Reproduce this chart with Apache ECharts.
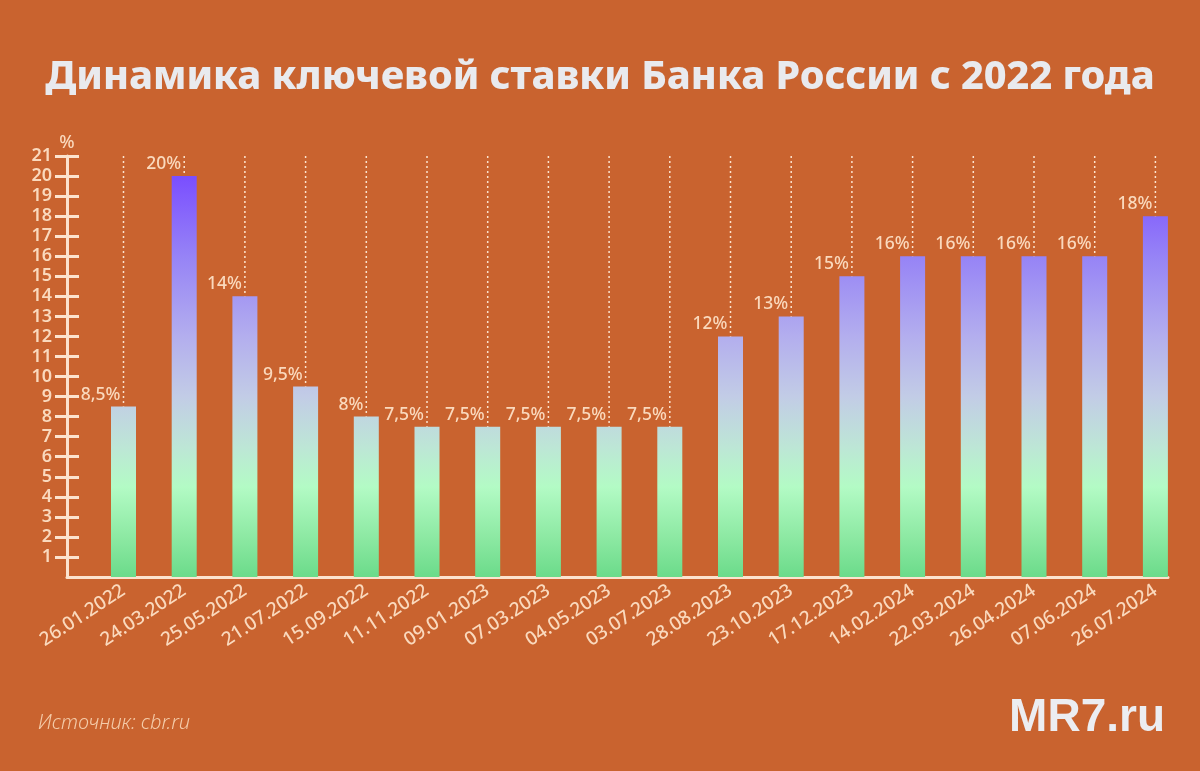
<!DOCTYPE html>
<html>
<head>
<meta charset="utf-8">
<script src="https://cdn.jsdelivr.net/npm/echarts@6/dist/echarts.min.js"></script>
<style>
html,body{margin:0;padding:0;background:#C9632F;}
#c{width:1200px;height:771px;}
</style>
</head>
<body>
<div id="c"></div>
<script>
const categories = ['26.01.2022','24.03.2022','25.05.2022','21.07.2022','15.09.2022','11.11.2022','09.01.2023','07.03.2023','04.05.2023','03.07.2023','28.08.2023','23.10.2023','17.12.2023','14.02.2024','22.03.2024','26.04.2024','07.06.2024','26.07.2024'];
const rates = [8.5, 20, 14, 9.5, 8, 7.5, 7.5, 7.5, 7.5, 7.5, 12, 13, 15, 16, 16, 16, 16, 18];
const yTickValues = [1,2,3,4,5,6,7,8,9,10,11,12,13,14,15,16,17,18,19,20,21];
const titleText = 'Динамика ключевой ставки Банка России с 2022 года';
const sourceText = 'Источник: cbr.ru';
const logoText = 'MR7.ru';

const BG = '#C9632F';
const PEACH = '#FAD9BD';
const LINE = '#FCE3CE';
const FONT = '"Noto Sans", sans-serif';

function fmt(v){ return String(v).replace('.', ',') + '%'; }

const chart = echarts.init(document.getElementById('c'), null, {renderer:'canvas'});
const gridTop = 156, gridBottom = 194;

const option = {
  backgroundColor: BG,
  animation: false,
  title: [
    {text: titleText, left: 'center', top: 53,
     textStyle: {color: '#E9EAEE', fontSize: 39.5, fontWeight: 800, fontFamily: FONT}},
    {text: sourceText, left: 33, top: 708,
     textStyle: {color: '#F4CBA9', fontSize: 20, fontWeight: 300, fontStyle: 'italic', fontFamily: FONT}},
    {text: logoText, right: 30, top: 690,
     textStyle: {color: '#ECEDF1', fontSize: 46, fontWeight: 900, fontFamily: '"Liberation Sans", Arial, sans-serif'}}
  ],
  grid: [
    {left: 67, right: 32, top: gridTop, bottom: gridBottom},
    {left: 93.15, right: 14.25, top: gridTop, bottom: gridBottom}
  ],
  xAxis: [
    {type: 'value', gridIndex: 0, min: 0, max: 1, show: true,
     axisLine: {show: true, onZero: false, lineStyle: {color: LINE, width: 3}},
     axisTick: {show: false}, axisLabel: {show: false}, splitLine: {show: false}},
    {type: 'category', gridIndex: 1, data: categories,
     axisLine: {show: false}, axisTick: {show: false}, splitLine: {show: false},
     axisLabel: {color: PEACH, fontSize: 19, fontWeight: 500, fontFamily: FONT, rotate: 33, margin: 12, interval: 0}}
  ],
  yAxis: [
    {type: 'value', gridIndex: 0, min: 0, max: 21, interval: 1,
     name: '%', nameLocation: 'end', nameGap: 4,
     nameTextStyle: {color: PEACH, fontSize: 18, fontWeight: 500, fontFamily: FONT, align: 'center'},
     axisLine: {show: true, onZero: false, lineStyle: {color: LINE, width: 3}},
     axisTick: {show: true, length: 12, customValues: yTickValues, lineStyle: {color: LINE, width: 3}},
     axisLabel: {color: PEACH, fontSize: 18, fontWeight: 600, fontFamily: FONT, margin: 15, customValues: yTickValues},
     splitLine: {show: false}},
    {type: 'value', gridIndex: 0, min: 0, max: 21, interval: 1, position: 'left',
     axisLine: {show: false},
     axisTick: {show: true, inside: true, length: 12, customValues: yTickValues, lineStyle: {color: LINE, width: 3}},
     axisLabel: {show: false}, splitLine: {show: false}},
    {type: 'value', gridIndex: 1, min: 0, max: 21, interval: 1, show: false}
  ],
  series: [
    {id: 'bars', type: 'bar', xAxisIndex: 1, yAxisIndex: 2, data: rates, barWidth: 25,
     itemStyle: {color: '#B3AEEE'}},
    {id: 'marks', type: 'custom', xAxisIndex: 1, yAxisIndex: 2, data: rates.map((v, i) => [i, v]),
     z: 5,
     renderItem: function(params, api){
       const i = api.value(0), v = api.value(1);
       const p = api.coord([i, v]);
       const t = api.coord([i, 21]);
       return {type: 'group', children: [
         {type: 'line', shape: {x1: p[0], y1: t[1], x2: p[0], y2: p[1]},
          style: {stroke: LINE, lineWidth: 1.5, lineDash: [2, 3]}},
         {type: 'text', x: p[0] - 3, y: p[1] - 3,
          style: {text: fmt(v), fill: PEACH, fontSize: 17.5, fontWeight: 500, fontFamily: FONT,
                  align: 'right', verticalAlign: 'bottom'}}
       ]};
     }}
  ]
};
chart.setOption(option);

const y0 = chart.convertToPixel({yAxisIndex: 2}, 0);
const y20 = chart.convertToPixel({yAxisIndex: 2}, 20);
const stops = [
  {offset: 0, color: '#7A4EFF'},
  {offset: 0.2, color: '#9683F6'},
  {offset: 0.4, color: '#B3AEEE'},
  {offset: 0.55, color: '#C2CCE6'},
  {offset: 0.675, color: '#BDE6D6'},
  {offset: 0.775, color: '#B3FBC5'},
  {offset: 0.9, color: '#8DE9A3'},
  {offset: 1, color: '#6BDB8A'}
];
chart.setOption({series: [{id: 'bars', itemStyle: {color: new echarts.graphic.LinearGradient(0, y20, 0, y0, stops, true)}}]});
</script>
</body>
</html>
